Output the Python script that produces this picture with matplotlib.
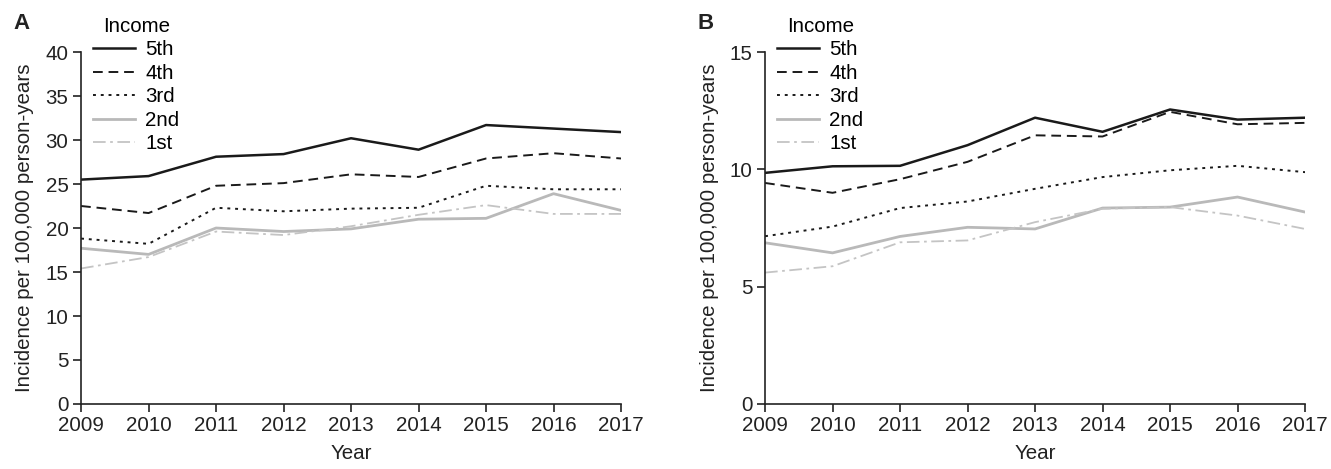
import matplotlib.pyplot as plt

plt.rcParams['font.family'] = ['Liberation Sans', 'DejaVu Sans']

years = [2009, 2010, 2011, 2012, 2013, 2014, 2015, 2016, 2017]
groups = ["5th", "4th", "3rd", "2nd", "1st"]

# panel A
a_5th = [25.5, 25.9, 28.1, 28.4, 30.2, 28.9, 31.7, 31.3, 30.9]
a_4th = [22.5, 21.7, 24.8, 25.1, 26.1, 25.8, 27.9, 28.5, 27.9]
a_3rd = [18.8, 18.2, 22.3, 21.9, 22.2, 22.3, 24.8, 24.4, 24.4]
a_2nd = [17.7, 17.0, 20.0, 19.6, 19.9, 21.0, 21.1, 23.9, 22.0]
a_1st = [15.4, 16.7, 19.6, 19.2, 20.2, 21.5, 22.6, 21.6, 21.6]

# panel B
b_5th = [9.85, 10.13, 10.15, 11.03, 12.2, 11.6, 12.55, 12.12, 12.2]
b_4th = [9.42, 9.0, 9.58, 10.32, 11.45, 11.4, 12.45, 11.92, 11.98]
b_3rd = [7.15, 7.56, 8.35, 8.63, 9.17, 9.67, 9.96, 10.15, 9.88]
b_2nd = [6.87, 6.44, 7.14, 7.53, 7.46, 8.35, 8.39, 8.82, 8.18]
b_1st = [5.6, 5.87, 6.89, 6.97, 7.75, 8.32, 8.39, 8.03, 7.46]

styles = [
    dict(color="#1a1a1a", lw=1.8, ls="-"),
    dict(color="#1a1a1a", lw=1.4, ls=(0, (5, 3))),
    dict(color="#1a1a1a", lw=1.4, ls=(0, (1.5, 2.5))),
    dict(color="#b9b9b9", lw=2.0, ls="-"),
    dict(color="#c4c4c4", lw=1.3, ls=(0, (7, 2.5, 1.5, 2.5))),
]

fs = 14.8

fig = plt.figure(figsize=(13.31, 4.69), dpi=100)
ax_a = fig.add_axes([0.0609, 0.1386, 0.4057, 0.7505])
ax_b = fig.add_axes([0.5748, 0.1386, 0.4057, 0.7505])

panels = [
    (ax_a, [a_5th, a_4th, a_3rd, a_2nd, a_1st], 40, range(0, 41, 5), "A"),
    (ax_b, [b_5th, b_4th, b_3rd, b_2nd, b_1st], 15, range(0, 16, 5), "B"),
]

for ax, series, ymax, yticks, tag in panels:
    for vals, name, st in zip(series, groups, styles):
        ax.plot(years, vals, label=name, **st)

    ax.set_xlim(2009, 2017)
    ax.set_ylim(0, ymax)
    ax.set_xticks(years)
    ax.set_yticks(list(yticks))
    ax.spines["top"].set_visible(False)
    ax.spines["right"].set_visible(False)
    for s in ["left", "bottom"]:
        ax.spines[s].set_linewidth(1.2)
        ax.spines[s].set_color("#222222")
    ax.tick_params(labelsize=fs, length=6, width=1.2, colors="#222222", pad=3)
    ax.set_xlabel("Year", fontsize=fs, color="#222222", labelpad=6)
    ax.set_ylabel("Incidence per 100,000 person-years", fontsize=fs,
                  color="#222222", labelpad=8)

    leg = ax.legend(title="Income", loc="upper left",
                    bbox_to_anchor=(0.022, 1.1), frameon=False,
                    fontsize=fs, title_fontsize=fs,
                    handlelength=2.05, handletextpad=0.5,
                    labelspacing=0.22, borderpad=0, borderaxespad=0)

    ax.text(-0.125, 1.08, tag, transform=ax.transAxes, fontsize=16,
            fontweight="bold", color="#222222", ha="left", va="center")

fig.savefig("out.png", dpi=100)
